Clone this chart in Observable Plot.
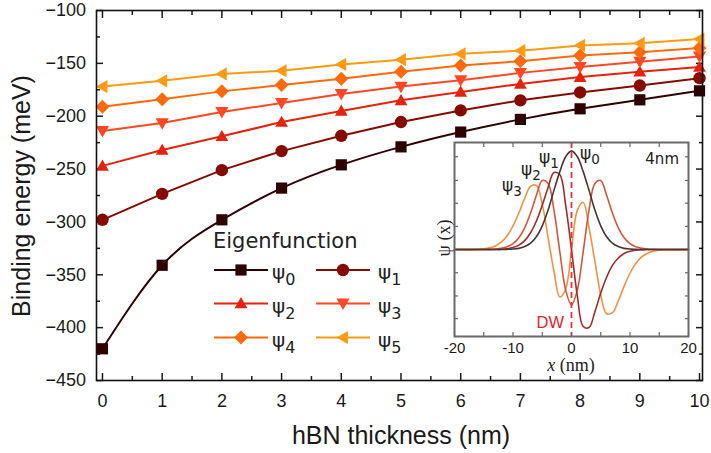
<!DOCTYPE html>
<html><head><meta charset="utf-8">
<script src="https://cdn.jsdelivr.net/npm/d3@7"></script>
<script src="https://cdn.jsdelivr.net/npm/@observablehq/plot@0.6"></script>
<style>
body{margin:0;background:#fff;}
#wrap{position:relative;width:711px;height:453px;overflow:hidden;}
</style></head><body><div id="wrap"></div>
<script>
// ---------- main chart data ----------
const thickness = [0,1,2,3,4,5,6,7,8,9,10];
const psi0 = [-420, -341, -298, -268, -246, -229, -215, -203, -193, -184.5, -176];
const psi1 = [-298, -273.5, -251, -233, -218.5, -205.5, -194.5, -185, -177.5, -171, -164];
const psi2 = [-247, -232, -219, -205.5, -195, -185, -177, -169.5, -163, -158, -153.5];
const psi3 = [-214, -206.5, -196, -187.5, -179, -172, -166, -159, -153.5, -148.5, -143.5];
const psi4 = [-191, -184, -176.5, -170.5, -164.5, -158, -152, -148, -142.5, -139.5, -135.5];
const psi5 = [-172, -166.5, -160, -157, -151, -146.5, -141, -138, -133, -131, -127];
const seriesIndex = ["0","1","2","3","4","5"];
const seriesColors = ["#2e0202", "#850a00", "#e6220c", "#ff4824", "#ff6a0c", "#ff9a12"];
const xTicks = [0,1,2,3,4,5,6,7,8,9,10];
const xMinor = [0.5,1.5,2.5,3.5,4.5,5.5,6.5,7.5,8.5,9.5];
const yTicks = [-450,-400,-350,-300,-250,-200,-150,-100];
const yMinor = [-425,-375,-325,-275,-225,-175,-125];

// ---------- inset data (wavefunctions at 4 nm) ----------
const inX = [-20,-16,-15,-14,-13,-12,-11,-10,-9,-8,-7,-6,-5,-4,-3,-2,-1,0,1,2,3,4,5,6,7,8,9,10,11,12,13,14,15,16,20];
const wf0 = [0,0,0,0,0,0,0.002,0.005,0.012,0.03,0.065,0.13,0.24,0.40,0.60,0.79,0.94,1,0.94,0.79,0.60,0.40,0.24,0.13,0.065,0.03,0.012,0.005,0.002,0,0,0,0,0,0];
const wf1 = [0,0,0,0,0.001,0.003,0.008,0.02,0.045,0.09,0.17,0.29,0.45,0.63,0.78,0.76,0.45,0,-0.47,-0.78,-0.79,-0.63,-0.44,-0.28,-0.16,-0.085,-0.04,-0.018,-0.007,-0.002,0,0,0,0,0];
const wf2 = [0,0,0.001,0.002,0.005,0.012,0.028,0.06,0.12,0.22,0.37,0.55,0.70,0.67,0.40,-0.02,-0.41,-0.56,-0.41,-0.02,0.40,0.67,0.70,0.55,0.37,0.22,0.12,0.06,0.028,0.012,0.005,0.002,0.001,0,0];
const wf3 = [0,0.002,0.007,0.017,0.037,0.075,0.14,0.24,0.37,0.52,0.64,0.65,0.46,0.12,-0.22,-0.48,-0.40,0,0.40,0.48,0.22,-0.12,-0.46,-0.65,-0.64,-0.52,-0.37,-0.24,-0.14,-0.075,-0.037,-0.017,-0.007,-0.002,0];
const wfColors = ["#4a3434", "#9a2e2a", "#cf583c", "#f39143"];
const inXTicks = [-20,-10,0,10,20];
const inXMinor = [-15,-5,5,15];
const inYTicks = [-0.70,-0.47,-0.235,0,0.235,0.47,0.70,0.94];

// ---------- custom marker symbols ----------
function sym(fn){return {draw(ctx,size){const r=Math.sqrt(size/Math.PI); fn(ctx,r);}};}
const symSquare = sym((c,r)=>{c.rect(-r,-r,2*r,2*r);});
const symCircle = sym((c,r)=>{c.moveTo(r,0);c.arc(0,0,r,0,2*Math.PI);});
const symUp = sym((c,r)=>{c.moveTo(0,-r);c.lineTo(r,0.75*r);c.lineTo(-r,0.75*r);c.closePath();});
const symDown = sym((c,r)=>{c.moveTo(0,r);c.lineTo(r,-0.75*r);c.lineTo(-r,-0.75*r);c.closePath();});
const symDiamond = sym((c,r)=>{c.moveTo(0,-r);c.lineTo(r,0);c.lineTo(0,r);c.lineTo(-r,0);c.closePath();});
const symLeft = sym((c,r)=>{c.moveTo(-r,0);c.lineTo(0.75*r,-r);c.lineTo(0.75*r,r);c.closePath();});

const series = [
  {k:"0", values:psi0, color:seriesColors[0], symbol:symSquare, r:5.6},
  {k:"1", values:psi1, color:seriesColors[1], symbol:symCircle, r:6.2},
  {k:"2", values:psi2, color:seriesColors[2], symbol:symUp, r:6.4},
  {k:"3", values:psi3, color:seriesColors[3], symbol:symDown, r:6.6},
  {k:"4", values:psi4, color:seriesColors[4], symbol:symDiamond, r:7},
  {k:"5", values:psi5, color:seriesColors[5], symbol:symLeft, r:6.6}
];

const emptyFmt = () => "";
const mainMarks = [
  Plot.axisX({anchor:"bottom", ticks:xTicks, tickSize:0, tickPadding:13.5, tickFormat:d=>String(d), label:null, fontSize:18}),
  Plot.axisY({anchor:"left", ticks:yTicks, tickSize:0, tickPadding:10.5, tickFormat:d=>"\u2212"+Math.abs(d), label:null, fontSize:18}),
  Plot.axisX({anchor:"bottom", ticks:xTicks, tickSize:7, dy:-7, tickFormat:emptyFmt, label:null, strokeWidth:1.5}),
  Plot.axisX({anchor:"bottom", ticks:xMinor, tickSize:4, dy:-4, tickFormat:emptyFmt, label:null, strokeWidth:1.5}),
  Plot.axisX({anchor:"top", ticks:xTicks, tickSize:7, dy:7, tickFormat:emptyFmt, label:null, strokeWidth:1.5}),
  Plot.axisX({anchor:"top", ticks:xMinor, tickSize:4, dy:4, tickFormat:emptyFmt, label:null, strokeWidth:1.5}),
  Plot.axisY({anchor:"left", ticks:yTicks, tickSize:7, dx:7, tickFormat:emptyFmt, label:null, strokeWidth:1.5}),
  Plot.axisY({anchor:"left", ticks:yMinor, tickSize:4, dx:4, tickFormat:emptyFmt, label:null, strokeWidth:1.5}),
  Plot.axisY({anchor:"right", ticks:yTicks, tickSize:7, dx:-7, tickFormat:emptyFmt, label:null, strokeWidth:1.5}),
  Plot.axisY({anchor:"right", ticks:yMinor, tickSize:4, dx:-4, tickFormat:emptyFmt, label:null, strokeWidth:1.5})
];
series.forEach((s,i)=>{
  const data = thickness.map((t,j)=>({t, e:s.values[j]}));
  mainMarks.push(Plot.line(data, {x:"t", y:"e", stroke:s.color, strokeWidth:2, curve: i===0 ? "natural" : "linear"}));
  mainMarks.push(Plot.dot(data, {x:"t", y:"e", fill:s.color, stroke:"none", symbol:s.symbol, r:s.r}));
});
mainMarks.push(Plot.frame({stroke:"#111", strokeWidth:1.6}));

const main = Plot.plot({
  width:711, height:453,
  marginLeft:96, marginRight:9, marginTop:10, marginBottom:73,
  x:{domain:[-0.1,10.05]},
  y:{domain:[-450,-100]},
  style:{fontFamily:"'Liberation Sans', Arial, sans-serif", fontSize:"18px", color:"#1a1a1a", background:"transparent", overflow:"visible"},
  marks: mainMarks
});
document.getElementById("wrap").appendChild(main);

const svg = d3.select(main);
// axis titles
svg.append("text").attr("x",401).attr("y",443.5).attr("text-anchor","middle")
  .attr("font-family","'Liberation Sans', Arial, sans-serif").attr("font-size",25).attr("fill","#1a1a1a")
  .text("hBN thickness (nm)");
svg.append("text").attr("transform","translate(30,196) rotate(-90)").attr("text-anchor","middle")
  .attr("font-family","'Liberation Sans', Arial, sans-serif").attr("font-size",25).attr("fill","#1a1a1a")
  .text("Binding energy (meV)");

// legend
const lg = svg.append("g").attr("font-family","'DejaVu Sans', sans-serif").attr("fill","#222").attr("text-anchor","start");
lg.append("text").attr("x",213).attr("y",248).attr("font-size",21).attr("text-anchor","start").text("Eigenfunction");
const cols = [[214,268,241,272],[316,370,343,378]];
const rowsY = [270,303.5,337.5];
series.forEach((s,i)=>{
  const c = cols[i%2], y = rowsY[Math.floor(i/2)];
  lg.append("line").attr("x1",c[0]).attr("x2",c[1]).attr("y1",y).attr("y2",y).attr("stroke",s.color).attr("stroke-width",2);
  lg.append("path").attr("d", d3.symbol(s.symbol, Math.PI*s.r*s.r)()).attr("transform",`translate(${c[2]},${y})`).attr("fill",s.color);
  const t = lg.append("text").attr("x",c[3]).attr("y",y+9).attr("text-anchor","start");
  t.append("tspan").attr("font-size",20).text("\u03C8");
  t.append("tspan").attr("font-size",16).attr("dy",6).text(s.k);
});

// ---------- inset ----------
const wfs = [wf3, wf2, wf1, wf0];
const wfCols = [wfColors[3], wfColors[2], wfColors[1], wfColors[0]];
const inMarks = [
  Plot.frame({fill:"white", stroke:"none"}),
  Plot.axisX({anchor:"bottom", ticks:inXTicks, tickSize:0, tickPadding:6, tickFormat:d=>String(d), label:null, fontSize:15}),
  Plot.axisX({anchor:"bottom", ticks:inXTicks.concat(inXMinor), tickSize:4, dy:-4, tickFormat:emptyFmt, label:null, stroke:"#666", strokeWidth:1.2}),
  Plot.axisX({anchor:"top", ticks:inXTicks.concat(inXMinor), tickSize:4, dy:4, tickFormat:emptyFmt, label:null, stroke:"#666", strokeWidth:1.2}),
  Plot.axisY({anchor:"left", ticks:inYTicks, tickSize:4, dx:4, tickFormat:emptyFmt, label:null, stroke:"#666", strokeWidth:1.2}),
  Plot.axisY({anchor:"right", ticks:inYTicks, tickSize:4, dx:-4, tickFormat:emptyFmt, label:null, stroke:"#666", strokeWidth:1.2})
];
wfs.forEach((w,i)=>{
  const data = inX.map((x,j)=>({x, v:w[j]}));
  inMarks.push(Plot.line(data, {x:"x", y:"v", stroke:wfCols[i], strokeWidth:1.6, curve:"catmull-rom"}));
});
inMarks.push(Plot.ruleX([0], {stroke:"#e8303a", strokeWidth:1.8, strokeDasharray:"6,4"}));
inMarks.push(Plot.frame({stroke:"#6a6a6a", strokeWidth:2}));

const inset = Plot.plot({
  width:258, height:250,
  marginLeft:14, marginRight:10, marginTop:12, marginBottom:44,
  x:{domain:[-20,20]},
  y:{domain:[-0.881,1.085]},
  style:{fontFamily:"'Liberation Sans', Arial, sans-serif", fontSize:"15px", color:"#1a1a1a", background:"transparent", overflow:"visible"},
  marks: inMarks
});
inset.style.position = "absolute";
inset.style.left = "440px";
inset.style.top = "130px";
document.getElementById("wrap").appendChild(inset);

const isvg = d3.select(inset);
const ig = isvg.append("g").attr("fill","#222").attr("font-family","'DejaVu Sans', sans-serif").attr("text-anchor","start");
const inLabels = [["0",140,29],["1",99,33],["2",81,45],["3",62,61]];
inLabels.forEach(([k,x,y])=>{
  const t = ig.append("text").attr("x",x).attr("y",y).attr("text-anchor","start");
  t.append("tspan").attr("font-size",17).text("\u03C8");
  t.append("tspan").attr("font-size",13.5).attr("dy",4.5).text(k);
});
ig.append("text").attr("x",239).attr("y",34).attr("text-anchor","end").attr("font-size",15).text("4nm");
isvg.append("text").attr("x",124).attr("y",198).attr("text-anchor","end")
  .attr("font-family","'Liberation Sans', Arial, sans-serif").attr("font-size",16.5).attr("fill","#e8202a").text("DW");
const xl = isvg.append("text").attr("x",131).attr("y",241).attr("text-anchor","middle")
  .attr("font-family","'Liberation Serif', 'DejaVu Serif', serif").attr("font-size",18).attr("fill","#222");
xl.append("tspan").attr("font-style","italic").text("x");
xl.append("tspan").text(" (nm)");
isvg.append("text").attr("transform","translate(10,108) rotate(-90)").attr("text-anchor","middle")
  .attr("font-family","'Liberation Serif', 'DejaVu Serif', serif").attr("font-size",18).attr("fill","#222")
  .text("\u03C8 (x)");
</script></body></html>
